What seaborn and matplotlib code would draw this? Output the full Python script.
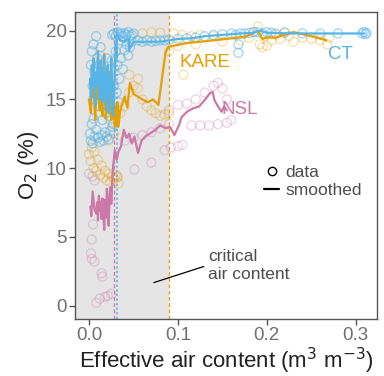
import numpy as np
import pandas as pd
import matplotlib
matplotlib.use("Agg")
import matplotlib.pyplot as plt
import seaborn as sns
from matplotlib.lines import Line2D

# ---------------- data ----------------
ct_data_x = [0.002,0.003,0.004,0.005,0.006,0.007,0.008,0.009,0.010,0.011,0.012,0.013,0.014,0.015,0.016,0.018,0.019,0.020,0.021,0.022,0.024,0.025,0.026,0.027,0.028,
             0.001,0.002,0.004,0.006,0.008,0.010,0.012,0.014,0.016,0.018,0.020,0.022,0.024,0.026,0.003,0.005,
             0.026,0.028,0.030,0.032,0.034,0.036,0.038,0.040,0.042,0.044,0.046,0.048,0.050,0.030,0.032,0.034,0.036,0.038,0.040,0.042,0.044,0.046,0.048,0.031,0.033,0.035,
             0.055,0.060,0.065,0.070,0.075,0.080,0.085,0.090,0.100,0.110,0.120,0.130,0.140,0.150,0.160,0.165,0.168,0.168,0.170,0.175,0.180,0.185,0.190,0.195,0.200,0.205,0.210,0.220,0.240,0.260,0.280,0.307,0.309,0.311,0.312]
ct_data_y = [17.5,18.5,16.0,19.0,17.0,15.0,19.6,18.0,16.5,14.5,17.5,18.8,15.5,13.5,17.0,16.0,14.0,18.0,15.2,13.8,16.5,17.8,14.5,13.2,16.0,
             12.5,12.0,11.8,12.3,12.8,12.2,11.9,12.4,12.0,12.6,12.3,12.1,12.7,13.0,13.2,13.6,
             19.7,19.8,19.6,19.9,19.7,19.8,19.6,19.8,19.7,19.9,19.6,19.7,19.8,18.5,17.5,16.5,18.0,17.2,18.6,19.0,18.2,18.8,19.2,15.5,14.8,19.3,
             19.3,19.2,19.3,19.2,19.25,19.3,19.3,19.35,19.4,19.45,19.5,19.6,19.7,19.75,19.8,19.7,19.0,18.4,19.8,19.8,19.85,19.9,19.9,19.8,19.9,19.85,19.8,19.85,19.8,19.8,19.8,19.8,19.9,19.75,19.85]

kare_data_x = [0.000,0.002,0.003,0.005,0.006,0.008,0.010,0.012,0.014,0.016,0.018,0.020,0.022,0.024,0.026,0.028,0.030,0.032,0.033,
               0.004,0.008,0.012,0.016,0.020,0.024,0.028,0.022,
               0.035,0.040,0.045,0.050,0.055,0.060,0.065,0.070,0.075,0.080,0.085,0.090,0.045,0.055,
               0.060,0.070,0.080,0.095,0.105,0.115,0.125,0.140,0.106,
               0.090,0.100,0.120,0.150,0.170,0.180,0.185,0.190,0.192,0.195,0.198,0.200,0.205,0.210,0.215,0.220,0.225,0.230,0.240,0.250,0.260,0.270,0.268]
kare_data_y = [11.0,10.5,11.5,10.0,11.2,9.8,10.6,9.5,10.2,9.3,9.8,9.1,9.6,9.0,9.4,9.2,9.5,9.3,8.9,
               15.0,17.5,18.2,16.0,14.5,13.5,12.5,12.0,
               14.0,14.5,15.5,16.0,15.8,15.0,14.5,14.2,14.0,13.8,13.9,14.0,16.8,16.5,
               19.8,19.9,19.85,19.8,19.7,19.6,19.7,19.6,16.8,
               18.5,18.9,19.0,19.2,19.3,19.5,19.9,20.3,19.0,18.8,19.6,18.9,19.3,19.7,19.4,19.9,19.6,19.2,19.5,19.4,19.3,19.5,19.0]

nsl_data_x = [0.0045,0.003,0.002,0.003,0.006,0.014,0.015,0.008,0.012,0.018,0.021,0.025,
              0.000,0.004,0.006,0.032,0.051,0.070,0.085,0.092,0.100,0.105,
              0.040,0.050,0.060,0.070,0.080,0.090,
              0.090,0.100,0.110,0.120,0.130,0.140,0.145,0.150,0.155,
              0.115,0.125,0.135,0.145,0.155,0.160]
nsl_data_y = [5.9,4.8,3.8,3.4,3.2,2.35,2.1,0.2,0.5,0.63,0.7,0.85,
              9.6,9.4,9.1,9.4,9.9,10.4,11.3,11.5,11.6,11.7,
              12.0,12.2,12.4,12.6,12.9,13.2,
              14.2,14.6,14.7,15.0,15.5,16.0,16.2,15.8,15.0,
              13.1,13.1,13.1,13.2,13.3,13.5]

ct_sm_x = [0.001,0.002,0.003,0.004,0.005,0.006,0.007,0.008,0.009,0.010,0.011,0.012,0.013,0.014,0.015,0.016,0.017,0.018,0.019,0.020,0.021,0.022,0.023,0.024,0.025,0.026,0.027,0.028,0.029,0.030,0.031,0.031,
           0.035,0.040,0.045,0.045,0.050,0.055,0.060,0.070,0.080,0.090,0.100,0.115,0.130,0.150,0.170,0.185,0.192,0.200,0.230,0.260,0.310]
ct_sm_y = [16.5,15.0,17.5,16.0,18.0,15.5,14.5,17.0,16.0,18.5,16.5,15.0,17.8,16.2,14.8,17.0,18.2,15.5,14.2,16.8,17.5,15.0,14.0,16.5,18.0,15.8,13.8,15.0,17.2,19.0,18.0,19.7,
           19.3,19.2,19.4,18.6,19.2,19.2,19.2,19.2,19.2,19.3,19.4,19.45,19.6,19.7,19.8,19.85,20.0,19.85,19.8,19.8,19.8]

kare_sm_x = [0.000,0.002,0.003,0.004,0.005,0.006,0.007,0.008,0.009,0.010,0.011,0.012,0.013,0.014,0.015,0.016,0.017,0.018,0.019,0.020,0.021,0.022,0.023,0.024,0.025,0.026,0.027,0.028,0.029,0.030,0.031,0.032,0.033,
             0.035,0.040,0.043,0.046,0.050,0.055,0.060,0.066,0.072,0.078,0.083,0.086,0.088,0.090,0.095,0.110,0.140,0.175,0.190,0.195,0.200,0.210,0.230,0.250,0.267]
kare_sm_y = [15.0,14.0,16.5,15.2,17.8,14.5,13.5,16.2,15.0,18.0,15.5,14.2,16.8,15.0,13.8,17.2,18.3,14.8,13.6,16.0,15.2,14.0,17.0,15.5,13.5,14.8,16.2,14.0,13.0,14.5,13.2,14.8,13.0,
             14.2,15.2,14.4,16.2,15.4,15.2,15.0,14.8,15.0,14.6,17.0,18.4,18.7,18.85,18.9,19.1,19.3,19.55,20.0,19.4,19.5,19.5,19.9,19.6,19.3]

nsl_sm_x = [0.0015,0.0025,0.004,0.006,0.008,0.009,0.010,0.011,0.012,0.013,0.014,0.015,0.016,0.017,0.018,0.019,0.020,0.021,0.022,0.023,0.024,0.025,0.026,0.027,
            0.029,0.031,0.033,0.036,0.039,0.042,0.045,0.048,0.051,0.055,0.059,0.063,0.068,0.075,0.080,0.086,0.091,0.096,0.098,0.101,0.104,0.110,0.117,0.124,0.130,0.136,0.139,0.141,0.145,0.149,0.152,0.155]
nsl_sm_y = [7.2,6.5,8.3,7.0,6.7,7.5,6.2,8.0,6.9,7.5,6.3,7.8,6.8,5.5,7.7,6.4,8.5,7.2,5.8,8.0,8.6,7.4,9.0,10.1,
            11.3,10.6,11.2,11.6,12.8,12.2,12.5,11.8,12.3,11.1,12.0,12.3,12.5,12.8,13.1,12.9,13.0,12.4,12.7,13.1,13.7,14.1,14.35,14.5,14.95,15.45,15.55,14.95,14.5,14.1,14.5,14.2]

critical_x = {"NSL": 0.028, "CT": 0.031, "KARE": 0.090}
site_colors = {"CT": "#56B4E9", "KARE": "#E69F00", "NSL": "#CC79A7"}

# ---------------- frames ----------------
data_df = pd.concat([
    pd.DataFrame({"x": ct_data_x, "y": ct_data_y, "site": "CT"}),
    pd.DataFrame({"x": kare_data_x, "y": kare_data_y, "site": "KARE"}),
    pd.DataFrame({"x": nsl_data_x, "y": nsl_data_y, "site": "NSL"}),
], ignore_index=True)
sm_df = pd.concat([
    pd.DataFrame({"x": ct_sm_x, "y": ct_sm_y, "site": "CT"}),
    pd.DataFrame({"x": kare_sm_x, "y": kare_sm_y, "site": "KARE"}),
    pd.DataFrame({"x": nsl_sm_x, "y": nsl_sm_y, "site": "NSL"}),
], ignore_index=True)

# ---------------- plot ----------------
sns.set_theme(style="ticks")
plt.rcParams["font.family"] = ["Liberation Sans", "DejaVu Sans"]

fig = plt.figure(figsize=(3.84, 3.76), dpi=100)
ax = fig.add_axes([0.195, 0.152, 0.787, 0.816])

ax.axvspan(-0.1, critical_x["KARE"], color="#e5e5e5", zorder=0, lw=0)
ax.axvline(critical_x["NSL"], color=site_colors["NSL"], ls=(0, (3, 2)), lw=0.9, zorder=1)
ax.axvline(critical_x["CT"], color=site_colors["CT"], ls=(0, (1.5, 1.5)), lw=1.1, zorder=1)
ax.axvline(critical_x["KARE"], color=site_colors["KARE"], ls=(0, (3, 2)), lw=0.9, zorder=1)

for site in ["NSL", "KARE", "CT"]:
    d = data_df[data_df.site == site]
    sns.scatterplot(data=d, x="x", y="y", ax=ax, facecolors="none",
                    edgecolor=site_colors[site], s=42, linewidth=1.0,
                    alpha=0.3 if site != "CT" else 0.5, legend=False, zorder=2)
for site in ["NSL", "KARE", "CT"]:
    d = sm_df[sm_df.site == site]
    sns.lineplot(data=d, x="x", y="y", ax=ax, color=site_colors[site], lw=1.6,
                 sort=False, estimator=None, legend=False, zorder=3)

ax.set_xlim(-0.016, 0.324)
ax.set_ylim(-0.97, 21.36)
ax.set_xticks([0.0, 0.1, 0.2, 0.3])
ax.set_xticklabels(["0.0", "0.1", "0.2", "0.3"])
ax.set_yticks([0, 5, 10, 15, 20])

for sp in ax.spines.values():
    sp.set_visible(True)
    sp.set_color("#555555")
    sp.set_linewidth(1.0)
ax.tick_params(axis="both", colors="#555555", labelcolor="#707070", labelsize=13.5,
               length=4, width=1, pad=2)

ax.set_xlabel("Effective air content (m$^3$ m$^{-3}$)", fontsize=16, color="#222222", labelpad=1)
ax.set_ylabel("O$_2$ (%)", fontsize=16, color="#222222", labelpad=3)

ax.text(0.283, 18.3, "CT", color=site_colors["CT"], fontsize=13.5, ha="center", va="center")
ax.text(0.130, 17.7, "KARE", color=site_colors["KARE"], fontsize=13.5, ha="center", va="center")
ax.text(0.170, 14.3, "NSL", color=site_colors["NSL"], fontsize=13.5, ha="center", va="center")

ax.text(0.134, 2.9, "critical\nair content", color="#4d4d4d", fontsize=12.5,
        ha="left", va="center", linespacing=1.2)
ax.plot([0.0729, 0.129], [1.67, 2.84], color="black", lw=0.9)

handles = [Line2D([], [], marker="o", ls="none", mfc="none", mec="black", ms=6, mew=1),
           Line2D([], [], color="black", lw=1.6)]
ax.legend(handles, ["data", "smoothed"], loc="upper left", bbox_to_anchor=(0.585, 0.54),
          frameon=False, fontsize=12.5, labelcolor="#4d4d4d", handlelength=0.9,
          handletextpad=0.35, borderpad=0.2, labelspacing=0.15)

fig.savefig("out.png", dpi=100)
